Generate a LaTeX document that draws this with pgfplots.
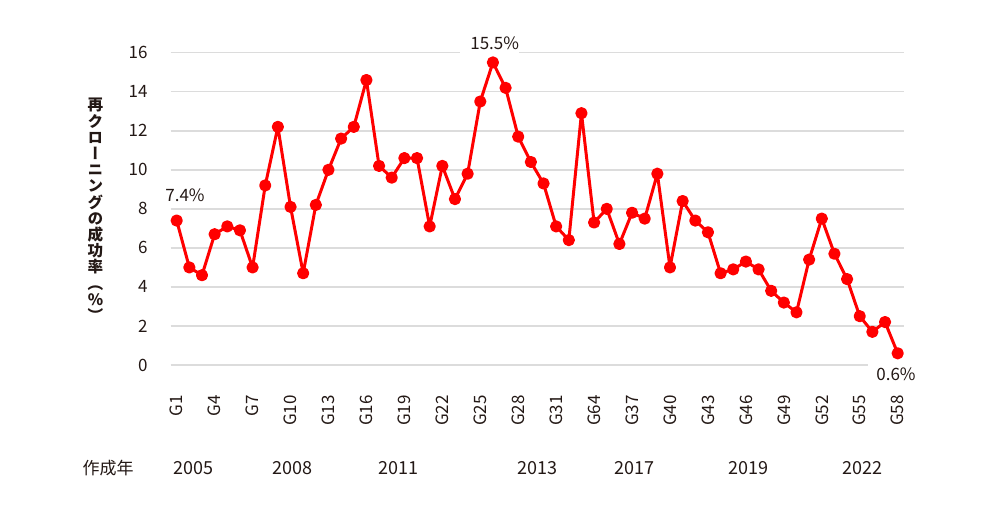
\documentclass[border=0pt]{standalone}
\usepackage{fontspec}
\setmainfont{Noto Sans CJK JP}
\newfontfamily\vfont[Vertical=Alternates]{Noto Sans CJK JP}
\usepackage{pgfplots}
\usepackage{pgfplotstable}
\pgfplotsset{compat=1.18}
\definecolor{txt}{RGB}{35,24,21}
\definecolor{gridc}{RGB}{220,220,220}
\definecolor{red1}{RGB}{255,0,0}
\tikzset{yearlab/.style={font=\fontsize{9bp}{10bp}\selectfont, text=txt}}

\pgfplotstableread{
x y
1 7.4
2 5.0
3 4.6
4 6.7
5 7.1
6 6.9
7 5.0
8 9.2
9 12.2
10 8.1
11 4.7
12 8.2
13 10.0
14 11.6
15 12.2
16 14.6
17 10.2
18 9.6
19 10.6
20 10.6
21 7.1
22 10.2
23 8.5
24 9.8
25 13.5
26 15.5
27 14.2
28 11.7
29 10.4
30 9.3
31 7.1
32 6.4
33 12.9
34 7.3
35 8.0
36 6.2
37 7.8
38 7.5
39 9.8
40 5.0
41 8.4
42 7.4
43 6.8
44 4.7
45 4.9
46 5.3
47 4.9
48 3.8
49 3.2
50 2.7
51 5.4
52 7.5
53 5.7
54 4.4
55 2.5
56 1.7
57 2.2
58 0.6
}\datatable

\begin{document}
\begin{tikzpicture}
\useasboundingbox (0,0) rectangle (500bp,258bp);
\begin{axis}[
  at={(85.35bp,75.5bp)}, anchor=south west,
  scale only axis, width=366.65bp, height=156.15bp,
  xmin=0.526, xmax=58.5, ymin=0, ymax=16,
  axis line style={draw=none},
  major tick length=0pt,
  ymajorgrids, grid style={gridc, line width=0.75bp},
  ytick={0,2,...,16},
  xtick={1,4,...,58},
  xticklabels={G1,G4,G7,G10,G13,G16,G19,G22,G25,G28,G31,G64,G37,G40,G43,G46,G49,G52,G55,G58},
  /pgf/number format/assume math mode=true,
  tick label style={font=\fontsize{8.5bp}{10bp}\selectfont, text=txt},
  xticklabel style={yshift=-15bp, rotate=90, anchor=east, inner sep=0pt},
  yticklabel style={anchor=east, inner sep=0pt, xshift=-11.35bp},
  clip=false,
]
\addplot[red1, line width=1.5bp, line join=round, line cap=round, mark=*, mark size=2.3bp,
  mark options={fill=red1, draw=none}] table[x=x,y=y]{\datatable};

\node[anchor=west, fill=white, inner xsep=0pt, inner ysep=3bp, xshift=-5.85bp,
  font=\fontsize{8.5bp}{10bp}\selectfont, text=txt] at (axis cs:1,8.71) {7.4\%\hspace{9.5bp}};
\node[anchor=west, fill=white, inner xsep=0pt, inner ysep=3bp, xshift=-16.5bp,
  font=\fontsize{8.5bp}{10bp}\selectfont, text=txt] at (axis cs:26,16.5) {\hspace{5bp}15.5\%\hspace{17bp}};
\node[anchor=west, fill=white, inner xsep=0pt, inner ysep=2bp, xshift=-14.85bp,
  font=\fontsize{8.5bp}{10bp}\selectfont, text=txt] at (axis cs:58,-0.46) {\hspace{4bp}0.6\%};

\node[yearlab] at (axis cs:2.29,-5.28) {2005};
\node[yearlab] at (axis cs:10.15,-5.28) {2008};
\node[yearlab] at (axis cs:18.53,-5.28) {2011};
\node[yearlab] at (axis cs:29.55,-5.28) {2013};
\node[yearlab] at (axis cs:37.2,-5.28) {2017};
\node[yearlab] at (axis cs:46.23,-5.28) {2019};
\node[yearlab] at (axis cs:55.25,-5.28) {2022};
\node[font=\fontsize{8.5bp}{10bp}\selectfont, text=txt] at (axis cs:-4.43,-5.28) {作成年};
\end{axis}
\node[font=\vfont\bfseries\fontsize{7.8bp}{8.1bp}\selectfont, text=txt, align=center, inner sep=0pt]
  at (47.75bp,153bp) {再\\ク\\ロ\\ー\\ニ\\ン\\グ\\の\\成\\功\\率\\（\\\%\\）};
\end{tikzpicture}
\end{document}
